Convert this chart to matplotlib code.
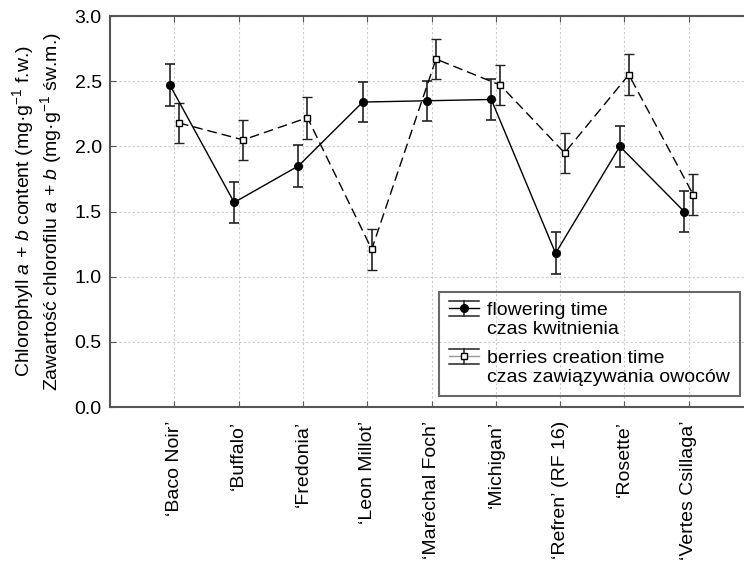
import numpy as np
import matplotlib
matplotlib.use("Agg")
import matplotlib.pyplot as plt
from matplotlib.lines import Line2D
from matplotlib.legend_handler import HandlerBase

plt.rcParams['font.family'] = ['Liberation Sans', 'DejaVu Sans']
plt.rcParams['font.size'] = 14
plt.rcParams['mathtext.fontset'] = 'custom'
plt.rcParams['mathtext.rm'] = 'Liberation Sans'
plt.rcParams['mathtext.it'] = 'Liberation Sans:italic'

# cultivars
cultivars = ['‘Baco Noir’', '‘Buffalo’', '‘Fredonia’', '‘Leon Millot’', '‘Maréchal Foch’',
             '‘Michigan’', '‘Refren’ (RF 16)', '‘Rosette’', '‘Vertes Csillaga’']

# chlorophyll a+b, flowering time
flowering = [2.47, 1.57, 1.85, 2.34, 2.35, 2.36, 1.18, 2.00, 1.50]
flowering_err = [0.16, 0.155, 0.16, 0.155, 0.155, 0.16, 0.16, 0.16, 0.155]

# chlorophyll a+b, berries creation time
berries = [2.18, 2.05, 2.22, 1.21, 2.67, 2.47, 1.95, 2.55, 1.63]
berries_err = [0.155, 0.155, 0.16, 0.155, 0.155, 0.155, 0.155, 0.155, 0.155]

x = np.arange(1, len(cultivars) + 1)
shift = 0.07
dash = (0, (7, 3.6))


class ErrKey:
    def __init__(self, color, marker, mfc, ms):
        self.color = color
        self.marker = marker
        self.mfc = mfc
        self.ms = ms


class HandlerErrKey(HandlerBase):
    # error bar key with caps as wide as the key, aligned to the first text line
    def create_artists(self, legend, h, xdescent, ydescent, width, height,
                       fontsize, trans):
        x0 = -xdescent
        x1 = x0 + width
        xm = (x0 + x1) / 2
        ym = -ydescent + height / 2 + 0.58 * fontsize
        d = 5.5
        arts = [
            Line2D([x0, x1], [ym + d, ym + d], color='#222222', lw=1.1),
            Line2D([x0, x1], [ym - d, ym - d], color='#222222', lw=1.1),
            Line2D([xm, xm], [ym - d, ym + d], color='#222222', lw=1.1),
            Line2D([x0, x1], [ym, ym], color=h.color, lw=1),
            Line2D([xm], [ym], ls='none', marker=h.marker, ms=h.ms,
                   mfc=h.mfc, mec='black', mew=1),
        ]
        for a in arts:
            a.set_transform(trans)
        return arts


fig = plt.figure(figsize=(7.44, 5.63), dpi=100)
ax = fig.add_axes([0.148, 0.277, 0.864, 0.6945])

ax.errorbar(x - shift, flowering, yerr=flowering_err, color='black', lw=1,
            marker='o', ms=5.5, mfc='black', mec='black',
            ecolor='#222222', elinewidth=1.2, capsize=3.5, capthick=1.2, zorder=3)
ax.errorbar(x + shift, berries, yerr=berries_err, color='black', lw=1,
            ls=dash, marker='s', ms=5, mfc='white', mec='black', mew=1,
            ecolor='#222222', elinewidth=1.2, capsize=3.5, capthick=1.2, zorder=3)

ax.set_xlim(0, 10)
ax.set_ylim(0, 3.0)
ax.set_yticks(np.arange(0, 3.01, 0.5))
ax.set_yticklabels(['%.1f' % v for v in np.arange(0, 3.01, 0.5)])
ax.set_xticks(x)
ax.set_xticklabels(cultivars, rotation=90, va='top')

ax.grid(True, color='#cccccc', ls=(0, (2, 2)), lw=0.8)
ax.set_axisbelow(True)
ax.tick_params(direction='in', length=4, color='#555555', top=True, right=False,
               labelsize=14, pad=6)
ax.tick_params(axis='x', pad=10)
for s in ax.spines.values():
    s.set_color('#555555')
    s.set_linewidth(1.5)

ax.set_ylabel('Chlorophyll $a$ + $b$ content (mg·g$^{-1}$ f.w.)\n'
              'Zawartość chlorofilu $a$ + $b$ (mg·g$^{-1}$ św.m.)',
              fontsize=14, linespacing=1.1, labelpad=8)

keys = [ErrKey('black', 'o', 'black', 5.5), ErrKey('#999999', 's', 'white', 5)]
leg = ax.legend(keys,
                ['flowering time\nczas kwitnienia',
                 'berries creation time\nczas zawiązywania owoców'],
                handler_map={ErrKey: HandlerErrKey()},
                loc='lower right', bbox_to_anchor=(0.98, 0.028),
                fontsize=14, frameon=True, fancybox=False, facecolor='none',
                edgecolor='#444444', borderpad=0.5, handlelength=1.55,
                handletextpad=0.45, labelspacing=0.6, borderaxespad=0)
leg.get_frame().set_linewidth(1.5)
for t in leg.get_texts():
    t.set_linespacing(1.2)

fig.savefig('out.png', dpi=100)
